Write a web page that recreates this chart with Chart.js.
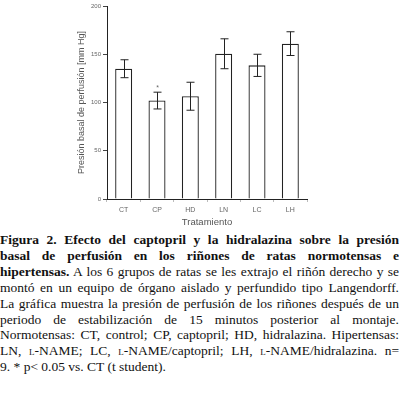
<!DOCTYPE html>
<html>
<head>
<meta charset="utf-8">
<script src="https://cdn.jsdelivr.net/npm/chart.js@4"></script>
<style>
  body { margin: 0; background: #fff; width: 399px; height: 393px; overflow: hidden; position: relative; }
  #wrap { position: absolute; left: 0; top: 0; width: 399px; height: 228px; }
  #caption {
    position: absolute; left: 0; top: 232px; width: 399px;
    font-family: "Liberation Serif", "Times New Roman", serif;
    font-size: 13.5px; line-height: 15.9px; color: #111;
  }
  #caption .ln { display: block; text-align: justify; text-align-last: justify; white-space: nowrap; }
  #caption .ln.last { text-align-last: left; }
  .sc { font-variant: small-caps; }
</style>
</head>
<body>
<div id="wrap"><canvas id="grafico" width="399" height="228"></canvas></div>
<div id="caption">
  <span class="ln"><b>Figura 2. Efecto del captopril y la hidralazina sobre la presión</b></span>
  <span class="ln"><b>basal de perfusión en los riñones de ratas normotensas e</b></span>
  <span class="ln"><b>hipertensas.</b> A los 6 grupos de ratas se les extrajo el riñón derecho y se</span>
  <span class="ln">montó en un equipo de órgano aislado y perfundido tipo Langendorff.</span>
  <span class="ln">La gráfica muestra la presión de perfusión de los riñones después de un</span>
  <span class="ln">periodo de estabilización de 15 minutos posterior al montaje.</span>
  <span class="ln">Normotensas: CT, control; CP, captopril; HD, hidralazina. Hipertensas:</span>
  <span class="ln">LN, <span class="sc">l</span>-NAME; LC, <span class="sc">l</span>-NAME/captopril; LH, <span class="sc">l</span>-NAME/hidralazina. n=</span>
  <span class="ln last">9. * p&lt; 0.05 vs. CT (t student).</span>
</div>
<script>
// grupos de tratamiento
const grupos = ['CT', 'CP', 'HD', 'LN', 'LC', 'LH'];
// presion basal de perfusion (mm Hg), media
const medias = [135, 102, 106.5, 150.5, 138.5, 161];
// error (desviacion)
const errores = [9.3, 8.7, 14.5, 15.5, 11.5, 12.3];
// marca de significancia
const marcas = ['', '*', '', '', '', ''];
const yTicks = [0, 50, 100, 150, 200];

const fuente = '"Liberation Sans", Arial, sans-serif';
const gris = '#666';

// dibuja las barras de error y el asterisco
const barrasError = {
    id: 'barrasError',
    afterDatasetsDraw(chart) {
        const ctx = chart.ctx;
        const y = chart.scales.y;
        const meta = chart.getDatasetMeta(0);
        ctx.save();
        ctx.strokeStyle = '#222';
        ctx.lineWidth = 1;
        meta.data.forEach((bar, i) => {
            const x = Math.round(bar.x) + 0.5;
            const top = y.getPixelForValue(medias[i] + errores[i]);
            const bot = y.getPixelForValue(medias[i] - errores[i]);
            ctx.beginPath();
            ctx.moveTo(x, top); ctx.lineTo(x, bot);
            ctx.moveTo(x - 4, top); ctx.lineTo(x + 4, top);
            ctx.moveTo(x - 4, bot); ctx.lineTo(x + 4, bot);
            ctx.stroke();
            if (marcas[i]) {
                ctx.fillStyle = gris;
                ctx.font = '7px ' + fuente;
                ctx.textAlign = 'center';
                ctx.textBaseline = 'bottom';
                ctx.fillText(marcas[i], x, top - 1);
            }
        });
        ctx.restore();
    }
};

document.addEventListener('DOMContentLoaded', function () {
    const ctx = document.getElementById('grafico').getContext('2d');
    new Chart(ctx, {
        type: 'bar',
        data: {
            labels: grupos,
            datasets: [{
                data: medias,
                backgroundColor: '#fff',
                borderColor: '#222',
                borderWidth: 1.3,
                barPercentage: 0.51,
                categoryPercentage: 1
            }]
        },
        options: {
            responsive: false,
            devicePixelRatio: 1,
            animation: false,
            layout: { padding: { left: 76, right: 92, top: 6, bottom: 0 } },
            plugins: { legend: { display: false }, tooltip: { enabled: false } },
            scales: {
                x: {
                    grid: { display: true, drawOnChartArea: false, tickLength: 3, color: '#bbb' },
                    border: { color: '#222', width: 1 },
                    ticks: { color: gris, font: { family: fuente, size: 7 }, padding: 4 },
                    title: {
                        display: true, text: 'Tratamiento', color: '#555',
                        font: { family: fuente, size: 9.5 }, padding: { top: 2, bottom: 0 }
                    },
                    afterFit(s) { s.height = 29; }
                },
                y: {
                    min: 0, max: 200,
                    afterBuildTicks(s) { s.ticks = yTicks.map(v => ({ value: v })); },
                    grid: { drawOnChartArea: false, tickLength: 4, color: '#444' },
                    border: { color: '#222', width: 1 },
                    ticks: { color: gris, font: { family: fuente, size: 6 }, padding: 2 },
                    title: {
                        display: true, text: 'Presión basal de perfusión [mm Hg]', color: '#555',
                        font: { family: fuente, size: 9 }, padding: 0
                    },
                    afterFit(s) { s.width = 31; }
                }
            }
        },
        plugins: [barrasError]
    });
});
</script>
</body>
</html>
